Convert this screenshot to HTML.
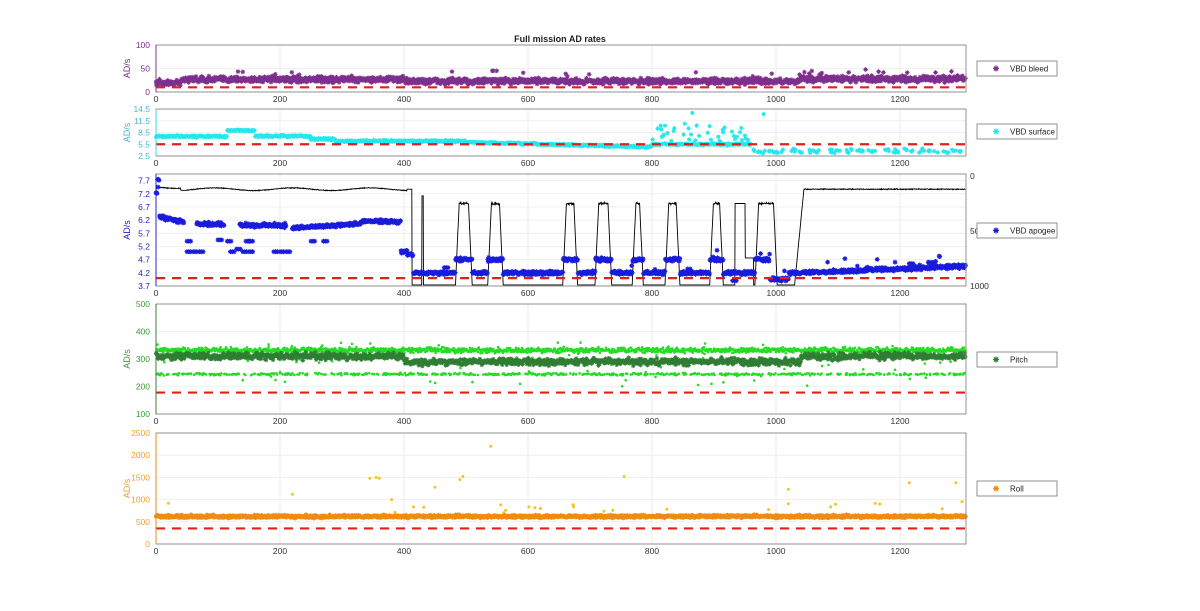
<!DOCTYPE html>
<html><head><meta charset="utf-8"><style>
html,body{margin:0;padding:0;background:#fff}
svg{display:block;font-family:"Liberation Sans",Arial,sans-serif}
</style></head><body>
<svg id="s" width="1200" height="611" xmlns="http://www.w3.org/2000/svg">
<text x="560" y="42" text-anchor="middle" font-size="9" font-weight="bold" fill="#222">Full mission AD rates</text>
</svg>
<script>
var S=document.getElementById('s');
var seed=12345;function R(){seed=(seed*16807)%2147483647;return (seed-1)/2147483646;}
function G(){return (R()+R()+R()-1.5)/1.5;}
var X0=156,XS=0.62,XR=966;
function px(u){return X0+u*XS;}
var out='';
function add(s){out+=s;}
function panel(top,bot,ymin,ymax,ticks,col,ylab,lab,lx){
  var f=function(v){return bot-(v-ymin)/(ymax-ymin)*(bot-top);};
  for(var u=200;u<=1200;u+=200){add('<line x1="'+px(u)+'" x2="'+px(u)+'" y1="'+top+'" y2="'+bot+'" stroke="#e6e6e6" stroke-width="0.8"/>');}
  ticks.forEach(function(t){var y=f(t);add('<line x1="'+X0+'" x2="'+XR+'" y1="'+y+'" y2="'+y+'" stroke="#ececec" stroke-width="0.8"/>');
    add('<text x="150" y="'+(y+3)+'" text-anchor="end" font-size="8.5" fill="'+col+'">'+lab(t)+'</text>');});
  for(var u=0;u<=1200;u+=200){add('<text x="'+px(u)+'" y="'+(bot+10)+'" text-anchor="middle" font-size="8.5" fill="#333">'+u+'</text>');}
  add('<text transform="translate(130,'+((top+bot)/2)+') rotate(-90)" text-anchor="middle" font-size="9" fill="'+col+'">'+ylab+'</text>');
  return f;
}
function box(top,bot,col){add('<rect x="'+X0+'" y="'+top+'" width="'+(XR-X0)+'" height="'+(bot-top)+'" fill="none" stroke="#888" stroke-width="0.9"/>');
  add('<line x1="'+X0+'" x2="'+X0+'" y1="'+top+'" y2="'+bot+'" stroke="'+col+'" stroke-width="0.9"/>');}
function stars(pts,col,r,sw){var d='';pts.forEach(function(p){var x=p[0].toFixed(1),y=p[1].toFixed(1),a=r,b=r*0.7;
  d+='M'+(p[0]-a).toFixed(1)+' '+y+'h'+2*a+'M'+x+' '+(p[1]-a).toFixed(1)+'v'+2*a+'M'+(p[0]-b).toFixed(1)+' '+(p[1]-b).toFixed(1)+'l'+2*b+' '+2*b+'M'+(p[0]-b).toFixed(1)+' '+(p[1]+b).toFixed(1)+'l'+2*b+' '+(-2*b);});
  add('<path d="'+d+'" stroke="'+col+'" stroke-width="'+(sw||0.9)+'" fill="none"/>');}
function dots(pts,col,r){var d='';pts.forEach(function(p){d+='M'+(p[0]-r).toFixed(1)+' '+p[1].toFixed(1)+'a'+r+' '+r+' 0 1 0 '+2*r+' 0a'+r+' '+r+' 0 1 0 '+(-2*r)+' 0';});add('<path d="'+d+'" fill="'+col+'"/>');}
function dash(y){add('<line x1="'+X0+'" x2="'+XR+'" y1="'+y+'" y2="'+y+'" stroke="#e0201b" stroke-width="2.2" stroke-dasharray="9,7"/>');}
function legend(y,col,txt){add('<rect x="977" y="'+y+'" width="80" height="15" fill="#fff" stroke="#777" stroke-width="0.8"/>');
  stars([[996,y+7.5]],col,3,1.2);add('<text x="1010" y="'+(y+10.5)+'" font-size="8" fill="#222">'+txt+'</text>');}
function clampY(y,t,b){return Math.max(t+1,Math.min(b-1,y));}

// Panel 1
var f1=panel(45,92,0,100,[0,50,100],'#7E2F8E','AD/s',function(t){return t;});
var p=[];for(var u=0;u<1306;u+=0.7){var base=u<40?19:(u<400?27:(u<1040?23:28));var v=base+G()*9;if(R()<0.015)v+=14;if(u>540&&u<550&&R()<0.3)v=45;p.push([px(u),f1(v)]);}
stars(p,'#7E2F8E',2.3,1);dash(f1(10));box(45,92,'#7E2F8E');legend(61,'#7E2F8E','VBD bleed');

// Panel 2
var f2=panel(109,156,2.5,14.5,[2.5,5.5,8.5,11.5,14.5],'#3fb8d8','AD/s',function(t){return t.toFixed(1);});
p=[];for(var u=0;u<1306;u+=1){var v;
 if(u<115)v=7.5;else if(u<160)v=9;else if(u<250)v=7.6;else if(u<290)v=6.8;else if(u<500)v=6.3;else if(u<800)v=6.0-(u-500)/300*1.2;else if(u<960)v=5.5;else v=null;
 if(v===null){if(R()<0.25)p.push([px(u),f2(3.8+G()*0.8)]);continue;}
 v+=G()*0.35;if(u>800&&u<960&&R()<0.25)v+=R()*5;p.push([px(u),f2(v)]);}
p.push([px(865),f2(13.5)]);p.push([px(980),f2(13.2)]);
stars(p,'#22e8ee',2.2,1);dash(f2(5.5));box(109,156,'#22e8ee');legend(124,'#22e8ee','VBD surface');

// Panel 3
var f3=panel(174,286,3.7,7.95,[3.7,4.2,4.7,5.2,5.7,6.2,6.7,7.2,7.7],'#1f1fc8','AD/s',function(t){return t.toFixed(1);});
function rr(v){return 176+v/1000*110;}
var pulses=[[483,510],[535,560],[656,680],[708,735],[768,786],[821,845],[893,915],[966,1002]];
function blk(u){
 if(u<405){var v=120+(u<40?-20:0)+Math.sin(u/20)*12+G()*5;if(u>40&&u<50)v=130;return v;}
 if(u<413)return 120;
 if(u>=429&&u<=431)return 180;
 for(var i=0;i<pulses.length;i++){var a=pulses[i][0],b=pulses[i][1];if(u>=a&&u<=b){var e=Math.min(u-a,b-u);return 990-Math.min(1,e/6)*(990-250)+G()*15*(e>6?1:0);}}
 if(u>=934&&u<=950)return 250;if(u>950&&u<964)return 745;
 if(u>=1030&&u<1045)return 990-(u-1030)/15*870;
 if(u>=1045)return 120+G()*6;
 return 990;}
var d='';for(var u=0;u<1306;u+=0.5){d+=(u?'L':'M')+px(u).toFixed(1)+' '+rr(blk(u)).toFixed(1);}
add('<path d="'+d+'" stroke="#000" stroke-width="0.9" fill="none"/>');
['0','500','1000'].forEach(function(t,i){add('<text x="970" y="'+(rr(i*500)+3)+'" font-size="8.5" fill="#333">'+t+'</text>');});
p=[];for(var u=0;u<1306;u+=0.8){var v;
 if(u<5)v=7.2+R()*0.6;else if(u<45)v=6.35-u/200;else if(u<65)v=null;else if(u<110)v=6.05;else if(u<135)v=null;else if(u<210)v=6.0;else if(u<220)v=null;else if(u<330)v=5.9+ (u-220)/110*0.15;else if(u<395)v=6.15;else if(u<405)v=5.0;else if(u<415)v=4.9;else{v=4.2;
   for(var i=0;i<pulses.length;i++){var a=pulses[i][0],b=pulses[i][1];if(u>=a&&u<=b)v=4.7;}
   if(u>1040)v=4.2+(u-1040)/260*0.25;if(u>990&&u<1020)v=3.95;}
 if(v===null)continue;v+=G()*0.1;if(u>700&&R()<0.03)v+=R()*0.5;p.push([px(u),clampY(f3(v),174,286)]);}
[[50,5.0],[60,5.0],[70,5.0],[120,5.0],[130,5.1],[140,5.0],[150,5.0],[190,5.0],[200,5.0],[210,5.0],[50,5.4],[100,5.45],[115,5.4],[145,5.4],[150,5.4],[250,5.4],[270,5.4],[465,4.4],[930,3.9],[1215,4.55],[1250,4.6]].forEach(function(q){for(var k=0;k<3;k++)p.push([px(q[0]+k*3),f3(q[1])]);});
stars(p,'#1a1adb',2.4,1.1);dash(f3(4.0));box(174,286,'#1a1adb');legend(223,'#1a1adb','VBD apogee');

// Panel 4
var f4=panel(304,414,100,500,[100,200,300,400,500],'#3a9a3a','AD/s',function(t){return t;});
var pl=[],pd=[];for(var u=0;u<1306;u+=0.8){
 pl.push([px(u),f4(332+G()*14)]);
 if(R()<0.35)pl.push([px(u),f4(245+G()*6)]);
 if(R()<0.05)pl.push([px(u),f4(200+R()*160)]);
 pd.push([px(u),f4((u>400&&u<1040?290:310)+G()*18)]);}
dots(pl,'#22dd22',1.3);stars(pd,'#2e7d32',2.2,0.9);dash(f4(178));box(304,414,'#2e7d32');legend(352,'#2e7d32','Pitch');

// Panel 5
var f5=panel(433,544,0,2500,[0,500,1000,1500,2000,2500],'#f0a030','AD/s',function(t){return t;});
var po=[],py=[];for(var u=0;u<1306;u+=0.8){po.push([px(u),f5(620+G()*45)]);if(R()<0.015)py.push([px(u),f5(700+R()*250)]);}
[[345,1480],[355,1500],[360,1480],[540,2200],[495,1520],[490,1450],[755,1520],[220,1120],[1215,1380],[1290,1380],[1020,1230],[450,1280],[380,1000],[1300,950]].forEach(function(q){py.push([px(q[0]),f5(q[1])]);});
dots(py,'#f5c518',1.5);stars(po,'#f08a10',2.3,1.1);dash(f5(350));box(433,544,'#f08a10');legend(481,'#f08a10','Roll');
S.insertAdjacentHTML('beforeend',out);
</script>
</body></html>
